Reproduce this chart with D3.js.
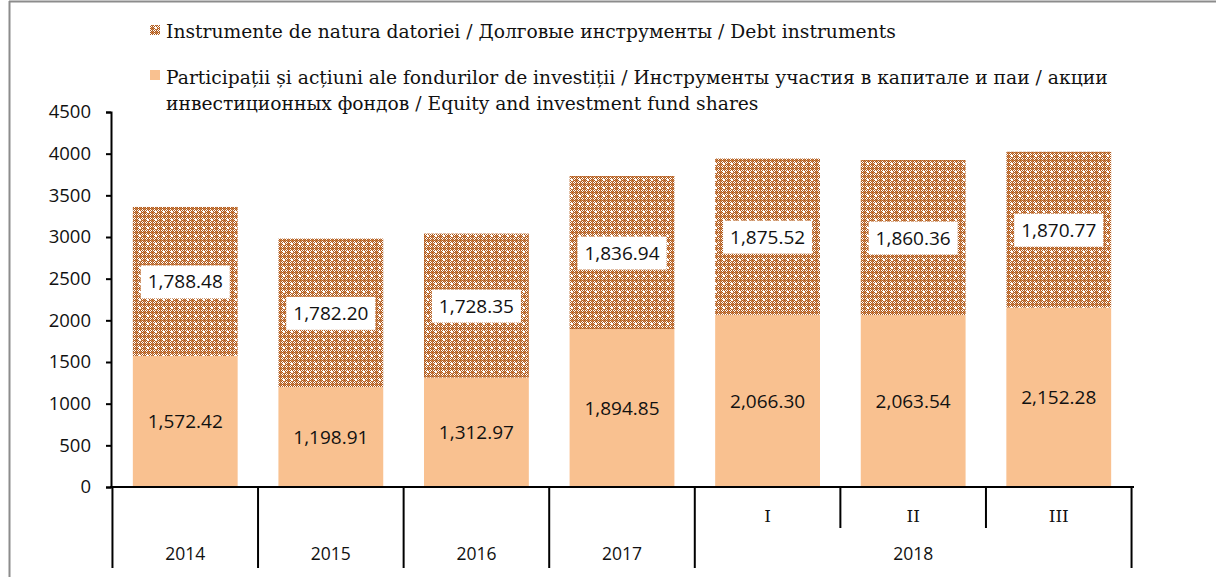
<!DOCTYPE html>
<html><head><meta charset="utf-8">
<script src="https://cdn.jsdelivr.net/npm/d3@7"></script>
<style>body{margin:0;background:#fff}</style></head>
<body>
<svg id="c" width="1216" height="577"></svg>
<script>
const categories = ["2014","2015","2016","2017","2018-I","2018-II","2018-III"];
const catLabels = ["2014","2015","2016","2017","I","II","III"];
const groups = [
  {label:"2014", cats:["2014"]},
  {label:"2015", cats:["2015"]},
  {label:"2016", cats:["2016"]},
  {label:"2017", cats:["2017"]},
  {label:"2018", cats:["2018-I","2018-II","2018-III"]}
];
const equity = [1572.42, 1198.91, 1312.97, 1894.85, 2066.30, 2063.54, 2152.28];
const debt = [1788.48, 1782.20, 1728.35, 1836.94, 1875.52, 1860.36, 1870.77];
const yTicks = [0,500,1000,1500,2000,2500,3000,3500,4000,4500];
const seriesDebt = "Instrumente de natura datoriei / Долговые инструменты / Debt instruments";
const seriesEquityLines = ["Participații și acțiuni ale fondurilor de investiții / Инструменты участия в капитале и паи / акции",
  "инвестиционных фондов / Equity and investment fund shares"];

const svg = d3.select("#c");
const fmt = d3.format(",.2f");
const orange = "#f9c190";
const brown = "#b05a1c";
const serif = "'DejaVu Serif', serif";
const sans = "'Open Sans', sans-serif";

// pattern
const defs = svg.append("defs");
const pat = defs.append("pattern").attr("id","dots").attr("patternUnits","userSpaceOnUse")
  .attr("width",8).attr("height",8);
pat.append("rect").attr("width",8).attr("height",8).attr("fill","#fff");
for (let i=0;i<8;i++) for (let j=0;j<8;j++) {
  const spot = (i>=3 && i<=4 && j>=3 && j<=4);
  if (!spot && (i+j)%2===0) pat.append("rect").attr("x",i).attr("y",j).attr("width",1).attr("height",1).attr("fill",brown);
  if (!spot && (i+j)%2===1 && (i%4===0 || j%4===0)) pat.append("rect").attr("x",i).attr("y",j).attr("width",1).attr("height",1).attr("fill","#cf8a55");
}

// border
svg.append("line").attr("x1",9.5).attr("x2",9.5).attr("y1",1).attr("y2",577).attr("stroke","#8c8c8c").attr("stroke-width",2);
svg.append("line").attr("x1",9).attr("x2",1216).attr("y1",1.5).attr("y2",1.5).attr("stroke","#8c8c8c").attr("stroke-width",2);

const x = d3.scaleBand().domain(categories).range([111,1133]).paddingInner(0.28).paddingOuter(0.15);
const y = d3.scaleLinear().domain([0,4500]).range([487,112]);

// bars
const g = svg.append("g");
g.selectAll(".eq").data(categories).join("rect")
  .attr("x", d=>x(d)).attr("width", x.bandwidth())
  .attr("y",(d,i)=>y(equity[i])).attr("height",(d,i)=>y(0)-y(equity[i]))
  .attr("fill",orange);
g.selectAll(".db").data(categories).join("rect")
  .attr("x", d=>x(d)).attr("width", x.bandwidth())
  .attr("y",(d,i)=>y(equity[i]+debt[i])).attr("height",(d,i)=>y(equity[i])-y(equity[i]+debt[i]))
  .attr("fill","url(#dots)");

// labels
categories.forEach((c,i)=>{
  const cx = x(c)+x.bandwidth()/2;
  const yd = y(equity[i]+debt[i]/2);
  const t = fmt(debt[i]);
  const txt = g.append("text").attr("x",cx).attr("y",yd+7).attr("text-anchor","middle")
    .attr("font-family",sans).attr("font-size",19).attr("fill","#111").text(t);
  const w = txt.node().getComputedTextLength();
  g.insert("rect", function(){return txt.node();}).attr("x",cx-w/2-7).attr("y",yd-16).attr("width",w+14).attr("height",33).attr("fill","#fff");
  g.append("text").attr("x",cx).attr("y",y(equity[i]/2)+7).attr("text-anchor","middle")
    .attr("font-family",sans).attr("font-size",19).attr("fill","#111").text(fmt(equity[i]));
});

// y axis
const ya = svg.append("g").attr("transform","translate(111,0)")
  .call(d3.axisLeft(y).tickValues(yTicks).tickSize(5).tickPadding(15).tickFormat(d3.format("d")));
ya.select(".domain").attr("stroke","#000").attr("stroke-width",2);
ya.selectAll(".tick line").attr("stroke","#000").attr("stroke-width",2);
ya.selectAll(".tick text").attr("font-family",sans).attr("font-size",18.5).attr("fill","#111");

// x axis
svg.append("line").attr("x1",110).attr("x2",1134).attr("y1",y(0)).attr("y2",y(0)).attr("stroke","#000").attr("stroke-width",2);
const half = (x.step()-x.bandwidth())/2;
const left = c => x(c)-half;
const right = c => x(c)+x.bandwidth()+half;
const bounds = groups.map(gr=>left(gr.cats[0])).concat([right(groups[groups.length-1].cats.slice(-1)[0])]);
svg.selectAll(".sep").data(bounds).join("line")
  .attr("x1",d=>d).attr("x2",d=>d).attr("y1",y(0)).attr("y2",568).attr("stroke","#000").attr("stroke-width",2);
groups.filter(gr=>gr.cats.length>1).forEach(gr=>{
  gr.cats.slice(1).forEach(c=>{
    svg.append("line").attr("x1",left(c)).attr("x2",left(c)).attr("y1",y(0)).attr("y2",528).attr("stroke","#000").attr("stroke-width",2);
  });
  gr.cats.forEach(c=>{
    svg.append("text").attr("x",x(c)+x.bandwidth()/2).attr("y",522).attr("text-anchor","middle")
      .attr("font-family",serif).attr("font-size",17).attr("fill","#111").text(catLabels[categories.indexOf(c)]);
  });
});
groups.forEach(gr=>{
  const cx = (left(gr.cats[0])+right(gr.cats[gr.cats.length-1]))/2;
  svg.append("text").attr("x",cx).attr("y",560).attr("text-anchor","middle")
    .attr("font-family",sans).attr("font-size",17.5).attr("fill","#111").text(gr.label);
});

// legend
svg.append("rect").attr("x",150).attr("y",25).attr("width",10).attr("height",10).attr("fill","url(#dots)");
svg.append("text").attr("x",166).attr("y",38).attr("font-family",serif).attr("font-size",18.7).attr("fill","#111").text(seriesDebt);
svg.append("rect").attr("x",150).attr("y",70).attr("width",10).attr("height",10).attr("fill",orange);
seriesEquityLines.forEach((l,i)=>{
  svg.append("text").attr("x",166).attr("y",84+i*26).attr("font-family",serif).attr("font-size",18.7).attr("fill","#111").text(l);
});
</script>
</body></html>
